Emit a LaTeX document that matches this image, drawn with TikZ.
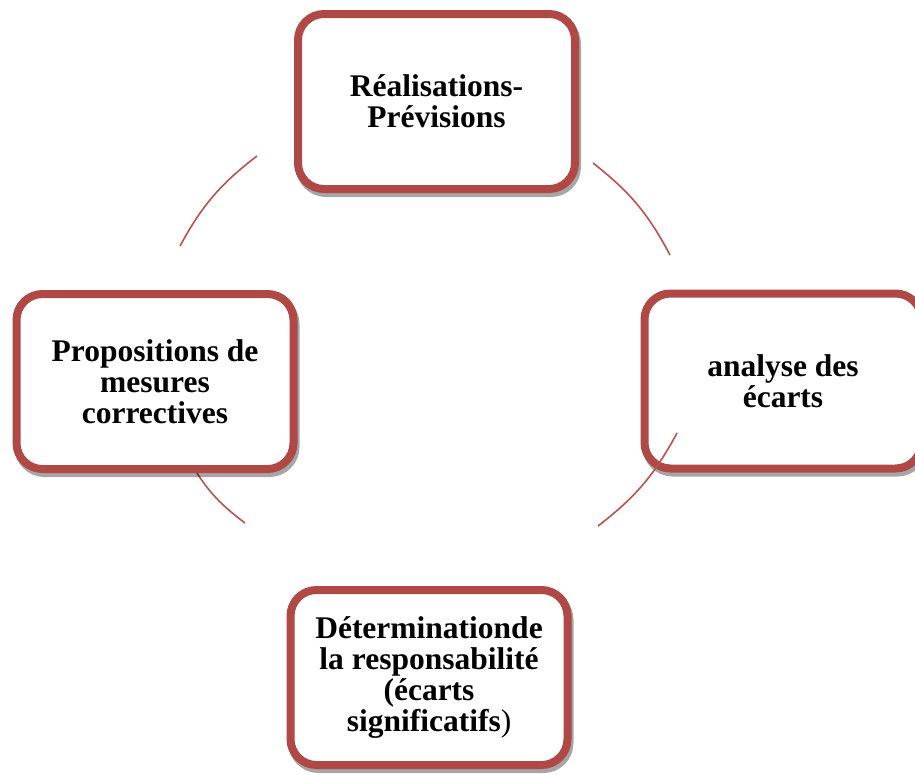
\documentclass[tikz,border=0pt]{standalone}
\usepackage{fontspec}
\setmainfont{Liberation Serif}
\definecolor{boxred}{RGB}{176,72,70}
\definecolor{arcred}{RGB}{192,80,77}
\tikzset{
  cyclebox/.style={
    rectangle, rounded corners=26pt, draw=boxred, line width=8pt, fill=white,
    minimum width=277pt, minimum height=175pt, align=center,
    font=\fontsize{31.5}{31}\selectfont\bfseries,
    preaction={draw=black, draw opacity=0.35, line width=8pt,
      transform canvas={shift={(2pt,-4pt)}}}
  },
  cyclearc/.style={draw=arcred, line width=1.6pt, bend left=12}
}
\begin{document}
\begin{tikzpicture}[x=1pt,y=-1pt]
  \useasboundingbox (0,0) rectangle (915,774);
  \clip (0,0) rectangle (915,774);

  % top step and the arc leading to the right
  \node[cyclebox] (real) at (436.5,101.5) {Réalisations-\\Prévisions};
  \coordinate (a1s) at (593,163);
  \coordinate (a1e) at (670,255);
  \draw[cyclearc] (a1s) to (a1e);

  % right step, the following arc runs over its corner
  \node[cyclebox] (anal) at (783,381) {analyse des\\écarts};
  \coordinate (a2s) at (677,433);
  \coordinate (a2e) at (598,526);
  \draw[cyclearc] (a2s) to (a2e);

  % bottom step and the arc running under the left step
  \node[cyclebox] (resp) at (429,677.5)
    {Déterminationde\\la responsabilité\\(écarts\\significatifs{\mdseries)}};
  \coordinate (a3s) at (245,523);
  \coordinate (a3e) at (188,458);
  \draw[cyclearc] (a3s) to (a3e);

  % left step and the closing arc
  \node[cyclebox] (prop) at (155,381.5) {Propositions de\\mesures\\correctives};
  \coordinate (a4s) at (180,246);
  \coordinate (a4e) at (257,156);
  \draw[cyclearc] (a4s) to (a4e);
\end{tikzpicture}
\end{document}
